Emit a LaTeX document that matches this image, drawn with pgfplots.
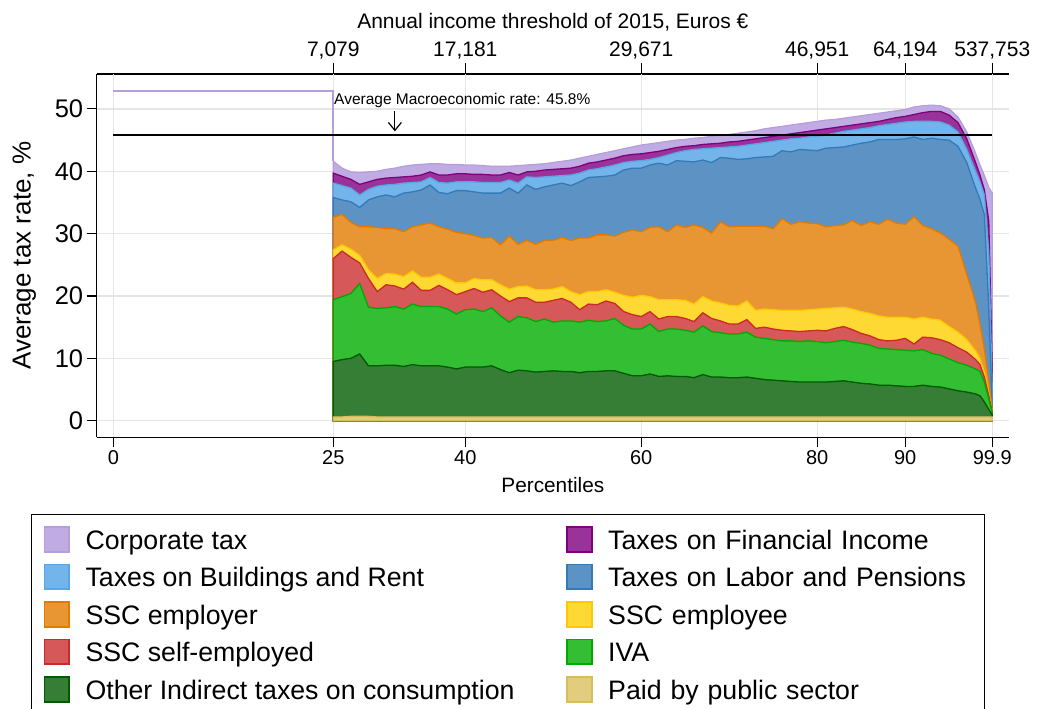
\documentclass[border=0pt]{standalone}
\usepackage{fontspec}
\setmainfont{Liberation Sans}
\usepackage{pgfplots}
\usepackage{pgfplotstable}
\pgfplotsset{compat=1.18}
\usetikzlibrary{arrows.meta}

\definecolor{corF}{RGB}{192,172,226}
\definecolor{corD}{RGB}{182,158,221}
\definecolor{finF}{RGB}{153,51,153}
\definecolor{finD}{RGB}{128,0,128}
\definecolor{bldF}{RGB}{115,180,235}
\definecolor{bldD}{RGB}{90,165,228}
\definecolor{labF}{RGB}{93,147,196}
\definecolor{labD}{RGB}{52,122,182}
\definecolor{serF}{RGB}{232,150,52}
\definecolor{serD}{RGB}{226,122,0}
\definecolor{seeF}{RGB}{255,217,51}
\definecolor{seeD}{RGB}{255,200,0}
\definecolor{sseF}{RGB}{214,88,88}
\definecolor{sseD}{RGB}{202,42,42}
\definecolor{ivaF}{RGB}{52,190,52}
\definecolor{ivaD}{RGB}{0,170,0}
\definecolor{othF}{RGB}{54,126,54}
\definecolor{othD}{RGB}{0,90,0}
\definecolor{pubF}{RGB}{225,205,125}
\definecolor{pubD}{RGB}{215,190,90}

\pgfplotstableread{
x pub oth iva sse see ser lab bld fin cor
25 0.6 9.5 19.4 26.0 27.4 32.6 35.8 38.1 39.7 41.6
26 0.6 9.8 19.9 27.2 28.2 33.1 35.4 37.7 39.2 40.5
27 0.7 10.0 20.4 26.2 27.5 31.8 35.1 37.3 38.7 39.9
28 0.7 10.7 22.0 25.3 26.5 31.1 34.2 36.2 37.9 39.8
29 0.7 8.8 18.2 22.8 24.2 31.1 35.4 37.1 38.3 39.9
30 0.6 8.8 18.0 20.7 22.8 31.0 35.9 37.6 38.7 40.0
31 0.6 8.9 18.1 21.8 23.6 30.8 36.2 37.8 38.9 40.3
32 0.6 8.9 18.3 21.6 23.5 30.8 35.9 37.9 39.0 40.5
33 0.6 8.7 17.9 21.1 23.1 30.3 36.5 38.1 39.1 40.8
34 0.6 9.0 18.7 22.2 24.0 31.1 36.7 38.2 39.2 41.0
35 0.6 8.8 18.3 20.9 23.0 31.4 37.0 38.3 39.4 41.1
36 0.6 8.8 18.3 20.9 23.0 31.7 37.8 39.0 39.9 41.2
37 0.6 8.8 18.3 21.7 23.5 31.1 36.6 38.2 39.4 41.2
38 0.6 8.6 17.9 21.0 22.8 30.7 36.4 38.1 39.4 41.1
39 0.6 8.3 17.1 20.2 22.1 30.2 36.9 38.3 39.6 41.1
40 0.6 8.6 17.8 20.7 22.1 30.0 36.9 38.3 39.6 41.0
41 0.6 8.6 17.9 21.2 22.8 29.7 36.7 38.3 39.5 41.0
42 0.6 8.6 17.5 20.6 22.6 29.3 36.5 38.2 39.5 40.9
43 0.6 8.8 18.1 21.0 22.6 29.4 36.5 38.2 39.4 40.8
44 0.6 8.2 16.8 20.0 21.8 28.2 36.5 38.2 39.4 40.8
45 0.6 7.7 15.8 19.1 21.1 29.6 37.3 38.6 39.8 40.8
46 0.6 8.1 16.7 19.7 21.5 28.3 36.5 38.1 39.4 40.9
47 0.6 8.0 16.5 19.7 21.6 28.9 37.8 39.1 39.9 41.0
48 0.6 7.8 15.9 19.0 21.0 28.3 37.1 39.0 40.0 41.1
49 0.6 7.9 16.3 19.0 21.0 28.9 37.5 39.1 40.2 41.2
50 0.6 8.0 15.8 19.3 21.1 28.9 37.8 39.2 40.3 41.4
51 0.6 7.9 16.0 19.6 21.5 29.4 38.1 39.3 40.4 41.6
52 0.6 7.9 16.0 19.0 20.7 28.9 37.7 39.4 40.5 41.8
53 0.6 7.7 15.8 17.8 20.2 29.3 38.3 39.7 40.8 42.1
54 0.6 7.9 16.1 18.7 20.7 29.3 39.0 40.2 41.3 42.4
55 0.6 7.9 15.9 18.6 20.7 29.8 39.1 40.4 41.5 42.7
56 0.6 8.0 16.0 19.2 21.0 29.8 39.2 40.7 41.8 43.0
57 0.6 8.0 16.4 18.8 20.6 29.6 39.4 41.0 42.1 43.3
58 0.6 7.6 15.3 17.5 20.1 30.2 40.2 41.4 42.5 43.6
59 0.6 7.2 14.7 17.0 19.8 30.6 40.5 41.6 42.7 43.9
60 0.6 7.2 14.7 16.7 20.1 30.3 40.5 41.7 42.8 44.2
61 0.6 7.5 15.5 17.5 19.9 31.0 41.0 41.9 43.0 44.4
62 0.6 7.1 14.3 16.3 19.4 31.1 41.3 42.2 43.2 44.6
63 0.6 7.2 14.7 16.7 19.4 30.3 41.0 42.6 43.5 44.8
64 0.6 7.1 14.7 16.7 19.4 31.4 41.7 43.0 43.8 45.0
65 0.6 7.1 14.5 16.4 19.3 31.0 41.6 43.3 44.0 45.1
66 0.6 6.9 14.2 15.9 18.7 31.4 41.5 43.5 44.1 45.3
67 0.6 7.4 15.2 17.3 19.9 31.0 41.8 43.6 44.3 45.4
68 0.6 7.0 14.3 16.4 19.2 30.1 41.4 43.7 44.4 45.6
69 0.6 7.0 14.1 16.0 18.9 31.9 42.2 43.8 44.5 45.8
70 0.6 6.9 13.9 15.5 18.5 31.1 42.1 43.9 44.7 45.9
71 0.6 6.9 13.9 15.5 18.4 31.2 41.9 44.0 44.8 46.1
72 0.6 7.0 14.2 16.2 19.2 31.2 42.0 44.2 45.0 46.3
73 0.6 6.8 13.4 14.8 17.7 31.2 42.2 44.4 45.2 46.5
74 0.6 6.6 13.2 15.0 17.9 31.2 42.3 44.6 45.4 46.8
75 0.6 6.5 13.0 14.7 17.8 30.8 42.4 44.8 45.6 47.0
76 0.6 6.4 12.8 14.5 17.7 32.4 43.3 45.0 45.8 47.2
77 0.6 6.3 12.8 14.4 17.7 31.5 43.1 45.2 46.0 47.4
78 0.6 6.2 12.7 14.3 17.7 31.9 43.5 45.3 46.2 47.6
79 0.6 6.2 12.8 14.4 17.8 31.7 43.4 45.5 46.4 47.8
80 0.6 6.2 12.7 14.5 17.9 31.6 43.3 45.6 46.6 48.0
81 0.6 6.2 12.5 14.4 18.0 31.1 43.7 45.8 46.8 48.2
82 0.6 6.3 12.7 14.8 18.1 31.3 43.8 46.1 47.0 48.3
83 0.6 6.4 12.9 15.1 18.2 31.4 43.9 46.4 47.2 48.5
84 0.6 6.2 12.6 14.6 17.9 32.1 44.2 46.6 47.4 48.7
85 0.6 6.0 12.4 14.0 17.5 31.3 44.5 46.8 47.6 48.9
86 0.6 5.9 12.1 13.6 17.2 31.9 44.7 47.0 47.8 49.1
87 0.6 5.7 11.6 13.0 16.8 31.5 45.1 47.3 48.0 49.3
88 0.6 5.7 11.5 12.8 16.6 32.3 45.1 47.5 48.3 49.5
89 0.6 5.6 11.4 12.9 16.6 31.7 45.1 47.7 48.6 49.7
90 0.6 5.5 11.3 13.2 16.6 31.5 45.2 47.9 48.8 49.9
91 0.6 5.5 11.2 12.3 16.3 32.7 45.5 48.0 49.1 50.3
92 0.6 5.7 11.4 13.4 16.6 31.3 45.1 48.0 49.4 50.5
93 0.6 5.5 10.8 13.3 16.3 30.8 45.3 48.0 49.6 50.6
94 0.6 5.4 10.5 13.0 16.1 30.1 45.1 47.9 49.6 50.5
95 0.6 5.1 9.9 12.5 15.1 29.1 45.0 47.4 49.0 50.0
96 0.6 4.8 9.3 11.7 14.2 28.0 44.0 46.3 47.8 48.7
97 0.6 4.6 8.9 11.0 13.0 23.5 41.4 43.5 45.2 46.3
98 0.6 4.3 8.3 9.8 11.2 19.0 37.3 40.0 41.4 42.9
98.5 0.6 4.0 7.9 9.0 10.0 15.5 35.5 38.3 39.4 41.0
99 0.6 3.0 6.2 7.0 7.8 11.5 33.0 36.2 37.0 39.3
99.5 0.6 1.8 3.5 4.0 4.5 6.5 18.0 27.0 32.0 37.4
99.9 0.6 0.9 1.2 1.4 1.4 1.7 1.7 4.9 8.0 36.5
}\datatable

\begin{document}
\begin{tikzpicture}
\path[use as bounding box] (0pt,0pt) rectangle (1037pt,709pt);

% top axis (income thresholds)
\begin{axis}[
  at={(96.7pt,271.7pt)}, anchor=south west,
  width=912.3pt, height=363.3pt, scale only axis,
  xmin=-1.89, xmax=101.8, ymin=-2.66, ymax=55.6,
  axis x line*=top, axis y line=none,
  axis line style={line width=1.1pt, black},
  xtick={25,40,60,80,90,99.9},
  xticklabels={{7,079},{17,181},{29,671},{46,951},{64,194},{537,753}},
  tick align=outside, major tick length=11pt,
  tick style={line width=1.1pt, black},
  xticklabel style={font=\fontsize{21}{25}\selectfont},
  xlabel={Annual income threshold of 2015, Euros €},
  xlabel style={font=\fontsize{21}{25}\selectfont, at={(axis description cs:0.5,1)}, anchor=base, yshift=45.7pt},
]
\addplot[draw=none, forget plot] coordinates {(0,0)};
\end{axis}

% main axis
\begin{axis}[
  at={(96.7pt,271.7pt)}, anchor=south west,
  width=912.3pt, height=363.3pt, scale only axis,
  xmin=-1.89, xmax=101.8, ymin=-2.66, ymax=55.6,
  axis x line*=bottom, axis y line*=left,
  axis line style={line width=1.1pt, black},
  xtick={0,25,40,60,80,90,99.9},
  xticklabels={0,25,40,60,80,90,99.9},
  ytick={0,10,20,30,40,50},
  yticklabels={0,10,20,30,40,50},
  tick align=outside, major tick length=10pt,
  tick style={line width=1.1pt, black},
  grid=major, grid style={line width=1.2pt, color=black!10},
  xticklabel style={font=\fontsize{20}{24}\selectfont},
  yticklabel style={font=\fontsize{25.5}{30}\selectfont},
  xlabel={Percentiles},
  xlabel style={font=\fontsize{20.8}{25}\selectfont, at={(axis description cs:0.5,0)}, anchor=base, yshift=-55.4pt},
  ylabel={Average tax rate, \%},
  ylabel style={font=\fontsize{26}{30}\selectfont, at={(axis description cs:-0.07245,0.5)}, anchor=base},
  legend columns=2, legend cell align=left,
  legend image code/.code={\draw[#1, line width=1.8pt] (0pt,-12.35pt) rectangle (24.7pt,12.35pt);},
  legend style={
    at={(-0.0720,-0.2111)}, anchor=north west,
    draw=black, line width=1.2pt, fill=white,
    inner xsep=12pt, inner ysep=11.5pt,
    font=\fontsize{26.7}{31}\selectfont,
    nodes={inner xsep=0pt, inner ysep=0pt, text height=23pt, text depth=3pt},
    row sep=11pt,
    /tikz/every odd column/.append style={column sep=15.5pt},
    /tikz/column 2/.append style={column sep=51.7pt},
    /tikz/column 4/.append style={nodes={text width=364.5pt, align=left}},
  },
]
\addplot[fill=corF, draw=corD, line width=1.3pt] table[x=x, y=cor] {\datatable} \closedcycle;
\addlegendentry{Corporate tax}
\addplot[fill=finF, draw=finD, line width=1.3pt] table[x=x, y=fin] {\datatable} \closedcycle;
\addlegendentry{Taxes on Financial Income}
\addplot[fill=bldF, draw=bldD, line width=1.3pt] table[x=x, y=bld] {\datatable} \closedcycle;
\addlegendentry{Taxes on Buildings and Rent}
\addplot[fill=labF, draw=labD, line width=1.3pt] table[x=x, y=lab] {\datatable} \closedcycle;
\addlegendentry{Taxes on Labor and Pensions}
\addplot[fill=serF, draw=serD, line width=1.3pt] table[x=x, y=ser] {\datatable} \closedcycle;
\addlegendentry{SSC employer}
\addplot[fill=seeF, draw=seeD, line width=1.3pt] table[x=x, y=see] {\datatable} \closedcycle;
\addlegendentry{SSC employee}
\addplot[fill=sseF, draw=sseD, line width=1.3pt] table[x=x, y=sse] {\datatable} \closedcycle;
\addlegendentry{SSC self-employed}
\addplot[fill=ivaF, draw=ivaD, line width=1.3pt] table[x=x, y=iva] {\datatable} \closedcycle;
\addlegendentry{IVA}
\addplot[fill=othF, draw=othD, line width=1.3pt] table[x=x, y=oth] {\datatable} \closedcycle;
\addlegendentry{Other Indirect taxes on consumption}
\addplot[fill=pubF, draw=pubD, line width=1.3pt] table[x=x, y=pub] {\datatable} \closedcycle;
\addlegendentry{Paid by public sector}

\addplot[corD, line width=2pt, forget plot] coordinates {(0,52.9) (25,52.9) (25,41.6)};
\addplot[black, line width=2pt, forget plot] coordinates {(0,45.8) (99.9,45.8)};

\node[anchor=base west, inner sep=0pt, font=\fontsize{15.5}{18}\selectfont] at (axis cs:25.08,50.63) {Average Macroeconomic rate: 45.8\%};
\draw[line width=1.2pt, -{Straight Barb[length=8pt, width=13pt]}] (axis cs:32.0,49.6) -- (axis cs:32.0,46.4);
\end{axis}
\end{tikzpicture}
\end{document}
